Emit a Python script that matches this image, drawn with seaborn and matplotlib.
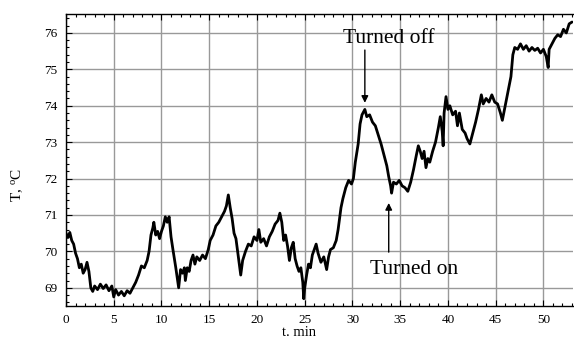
import matplotlib
matplotlib.use("Agg")
import matplotlib.pyplot as plt
import seaborn as sns
import pandas as pd
from matplotlib.ticker import MultipleLocator

t_min = [0.0, 0.2, 0.4, 0.6, 0.8, 1.0, 1.2, 1.4, 1.6, 1.8, 2.0, 2.2, 2.4, 2.6, 2.8, 3.0, 3.3, 3.6, 3.9, 4.2,
         4.5, 4.8, 5.0, 5.2, 5.5, 5.8, 6.1, 6.4, 6.7, 7.0, 7.3, 7.6, 7.9, 8.2, 8.5, 8.7, 8.9, 9.1, 9.2, 9.4,
         9.6, 9.8, 10.0, 10.2, 10.4, 10.6, 10.8, 11.0, 11.2, 11.5, 11.8, 12.0, 12.2, 12.4, 12.5, 12.7, 12.9, 13.1, 13.3, 13.5,
         13.7, 14.0, 14.3, 14.6, 14.9, 15.1, 15.4, 15.7, 16.0, 16.3, 16.6, 16.8, 17.0, 17.2, 17.4, 17.6, 17.8, 18.0, 18.3, 18.5,
         18.8, 19.1, 19.4, 19.7, 20.0, 20.2, 20.4, 20.7, 21.0, 21.3, 21.6, 21.9, 22.2, 22.4, 22.6, 22.8, 23.0, 23.2, 23.4, 23.6,
         23.8, 24.0, 24.2, 24.4, 24.6, 24.8, 24.9, 25.0, 25.2, 25.4, 25.6, 25.8, 26.0, 26.2, 26.4, 26.7, 27.0, 27.3, 27.5, 27.7,
         28.0, 28.3, 28.5, 28.8, 29.0, 29.3, 29.6, 29.9, 30.1, 30.3, 30.6, 30.8, 31.0, 31.3, 31.5, 31.8, 32.1, 32.4, 32.7, 33.0,
         33.3, 33.6, 33.8, 34.0, 34.1, 34.3, 34.6, 34.9, 35.2, 35.5, 35.8, 36.1, 36.4, 36.7, 36.9, 37.1, 37.3, 37.5, 37.7, 37.9,
         38.1, 38.4, 38.7, 39.0, 39.2, 39.4, 39.5, 39.6, 39.8, 40.0, 40.2, 40.5, 40.8, 41.0, 41.2, 41.5, 41.8, 42.0, 42.3, 42.6,
         42.9, 43.2, 43.5, 43.7, 44.0, 44.3, 44.6, 44.9, 45.2, 45.5, 45.7, 46.0, 46.3, 46.6, 46.8, 47.0, 47.3, 47.6, 47.9, 48.2,
         48.5, 48.8, 49.1, 49.4, 49.7, 50.0, 50.3, 50.5, 50.6, 50.9, 51.2, 51.5, 51.8, 52.1, 52.4, 52.7, 53.0]

temp_c = [70.50, 70.38, 70.52, 70.30, 70.20, 69.95, 69.80, 69.55, 69.65, 69.40, 69.50, 69.70, 69.45, 69.00, 68.90, 69.05, 68.95, 69.10, 68.98, 69.08,
          68.92, 69.05, 68.75, 68.95, 68.80, 68.90, 68.78, 68.92, 68.85, 69.00, 69.15, 69.35, 69.60, 69.55, 69.75, 70.00, 70.45, 70.65, 70.80, 70.45,
          70.55, 70.35, 70.55, 70.70, 70.95, 70.80, 70.95, 70.40, 70.05, 69.55, 69.00, 69.50, 69.40, 69.55, 69.20, 69.55, 69.45, 69.75, 69.90, 69.65,
          69.85, 69.75, 69.90, 69.80, 70.05, 70.30, 70.45, 70.70, 70.80, 70.95, 71.10, 71.25, 71.55, 71.20, 70.90, 70.50, 70.35, 69.95, 69.35, 69.75,
          70.00, 70.20, 70.15, 70.40, 70.30, 70.60, 70.25, 70.35, 70.15, 70.40, 70.55, 70.75, 70.85, 71.05, 70.80, 70.30, 70.45, 70.15, 69.75, 70.10,
          70.25, 69.80, 69.60, 69.45, 69.55, 69.15, 68.70, 69.00, 69.35, 69.65, 69.55, 69.90, 70.05, 70.20, 69.95, 69.70, 69.85, 69.50, 69.85, 70.05,
          70.10, 70.30, 70.60, 71.20, 71.45, 71.75, 71.95, 71.85, 72.00, 72.45, 72.95, 73.50, 73.75, 73.90, 73.70, 73.75, 73.55, 73.45, 73.20, 72.95,
          72.65, 72.35, 72.05, 71.80, 71.60, 71.90, 71.85, 71.95, 71.80, 71.75, 71.65, 71.90, 72.25, 72.65, 72.90, 72.75, 72.55, 72.75, 72.30, 72.55,
          72.45, 72.75, 73.00, 73.40, 73.70, 73.30, 72.90, 73.80, 74.25, 73.90, 74.00, 73.75, 73.85, 73.45, 73.80, 73.35, 73.25, 73.10, 72.95, 73.25,
          73.55, 73.90, 74.30, 74.05, 74.20, 74.10, 74.30, 74.10, 74.05, 73.80, 73.60, 74.00, 74.40, 74.80, 75.40, 75.60, 75.55, 75.70, 75.55, 75.65,
          75.50, 75.60, 75.52, 75.58, 75.45, 75.55, 75.35, 75.05, 75.55, 75.70, 75.85, 75.95, 75.90, 76.10, 76.00, 76.25, 76.30]

x_ticks = [0, 5, 10, 15, 20, 25, 30, 35, 40, 45, 50]
y_ticks = [69, 70, 71, 72, 73, 74, 75, 76]
x_label = "t. min"
y_label = "T, $^o$C"
annot_text = ["Turned off", "Turned on"]
annot_text_pos = [(33.8, 75.86), (36.5, 69.49)]
annot_arrow_tail = [(31.3, 75.53), (33.8, 69.98)]
annot_arrow_tip = [(31.3, 74.08), (33.8, 71.33)]

sns.set_style("white")
plt.rcParams["font.family"] = ["Liberation Serif", "DejaVu Serif"]
plt.rcParams["mathtext.fontset"] = "custom"
plt.rcParams["mathtext.rm"] = "Liberation Serif"
plt.rcParams["mathtext.it"] = "Liberation Serif"
plt.rcParams["text.color"] = "black"
plt.rcParams["axes.labelcolor"] = "black"
plt.rcParams["xtick.color"] = "black"
plt.rcParams["ytick.color"] = "black"

df = pd.DataFrame({"t": t_min, "T": temp_c})

fig = plt.figure(figsize=(5.74, 3.42), dpi=100)
ax = fig.add_axes([66 / 574, 36 / 342, 507 / 574, 292 / 342])
sns.lineplot(data=df, x="t", y="T", ax=ax, color="black", linewidth=2.0)

ax.set_xlim(0, 53.1)
ax.set_ylim(68.5, 76.52)
ax.set_xticks(x_ticks)
ax.set_yticks(y_ticks)
ax.xaxis.set_minor_locator(MultipleLocator(1))
ax.yaxis.set_minor_locator(MultipleLocator(0.2))
ax.grid(True, which="major", color="#999999", linewidth=1.0)
ax.set_axisbelow(True)
ax.tick_params(which="both", direction="in", top=True, right=False, bottom=True, left=True,
               colors="black", labelcolor="black", labelsize=9.5, width=0.8)
ax.tick_params(axis="y", which="major", pad=6)
ax.tick_params(axis="x", which="major", pad=6)
ax.tick_params(which="major", length=4)
ax.tick_params(which="minor", length=2.5)
for s in ["left", "bottom", "top"]:
    ax.spines[s].set_color("black")
    ax.spines[s].set_linewidth(1.0)
ax.spines["right"].set_visible(False)

ax.set_xlabel(x_label, fontsize=10.5, va="center", color="black")
ax.xaxis.set_label_coords(0.459, -0.092)
ax.set_ylabel(y_label, fontsize=11, va="center", color="black")
ax.yaxis.set_label_coords(-0.097, 0.414)

for txt, tp, tail, tip in zip(annot_text, annot_text_pos, annot_arrow_tail, annot_arrow_tip):
    ax.text(tp[0], tp[1], txt, fontsize=15.5, ha="center", va="center", color="black")
    ax.annotate("", xy=tip, xytext=tail,
                arrowprops=dict(arrowstyle="-|>", color="black", lw=1.0, mutation_scale=10,
                                shrinkA=0, shrinkB=0))

fig.savefig("out.png", dpi=100)
